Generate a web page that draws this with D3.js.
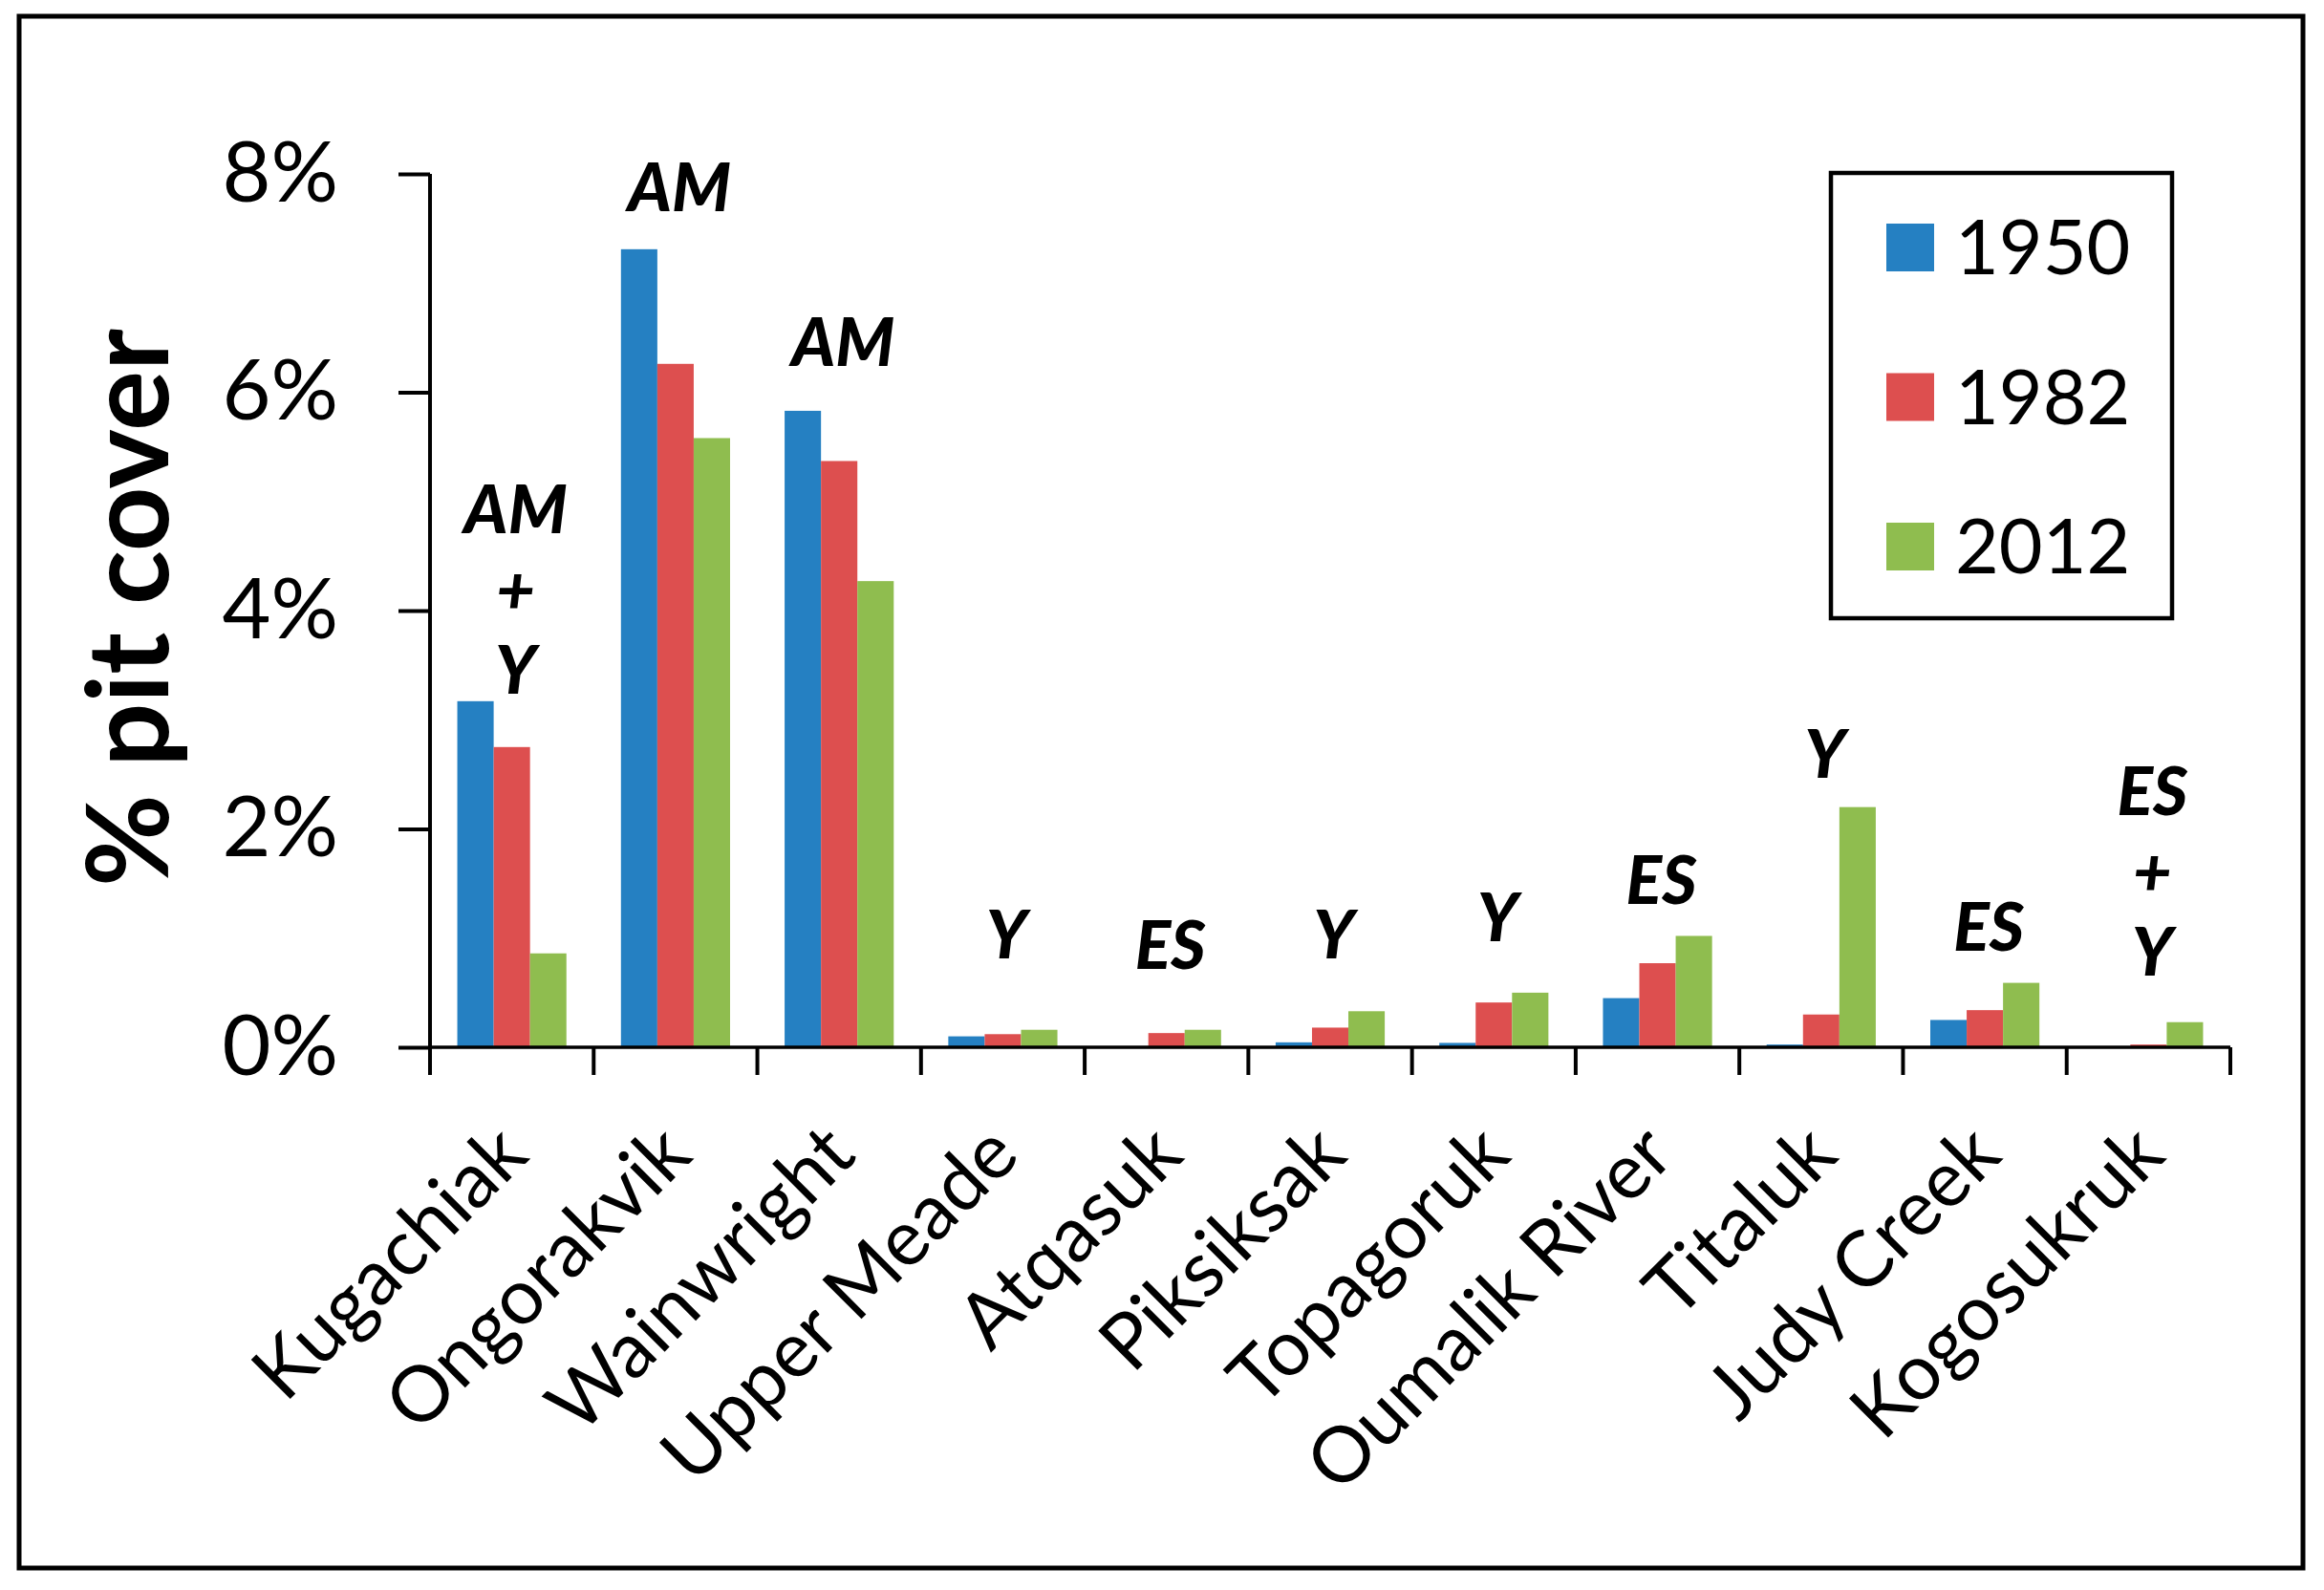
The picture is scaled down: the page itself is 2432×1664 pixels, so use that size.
<!DOCTYPE html>
<html>
<head>
<meta charset="utf-8">
<script src="https://cdn.jsdelivr.net/npm/d3@7"></script>
<style>
  body { margin: 0; background: #fff; }
  text { font-family: Lato, "Open Sans", sans-serif; }
</style>
</head>
<body>
<script>
var w = 2432;
var h = 1664;

var sites = ["Kugachiak", "Ongorakvik", "Wainwright", "Upper Meade", "Atqasuk",
             "Piksiksak", "Topagoruk", "Oumalik River", "Titaluk", "Judy Creek", "Kogosukruk"];
var years = ["1950", "1982", "2012"];
var cover1950 = [3.17, 7.31, 5.83, 0.10, 0, 0.045, 0.04, 0.45, 0.025, 0.25, 0];
var cover1982 = [2.75, 6.26, 5.37, 0.12, 0.13, 0.18, 0.41, 0.77, 0.30, 0.34, 0.025];
var cover2012 = [0.86, 5.58, 4.27, 0.16, 0.16, 0.33, 0.50, 1.02, 2.20, 0.59, 0.23];
var yTicks = [0, 2, 4, 6, 8];
var yTickLabels = ["0%", "2%", "4%", "6%", "8%"];

// group annotations (lines) and the level (in % units) of their last line's baseline
var notes = [["AM", "+", "Y"], ["AM"], ["AM"], ["Y"], ["ES"], ["Y"], ["Y"], ["ES"], ["Y"], ["ES"], ["ES", "+", "Y"]];
var noteLevels = [3.24, 7.66, 6.24, 0.81, 0.72, 0.81, 0.97, 1.31, 2.47, 0.88, 0.66];

var colors = ["#2580c2", "#dd4f4f", "#8fbd4f"];
var seriesValues = [cover1950, cover1982, cover2012];

var svg = d3.select("body")
            .append("svg")
            .attr("width", w)
            .attr("height", h);

svg.append("rect")
   .attr("width", w).attr("height", h)
   .attr("fill", "white");

// outer frame
svg.append("rect")
   .attr("x", 20).attr("y", 17)
   .attr("width", 2390).attr("height", 1624)
   .attr("fill", "none")
   .attr("stroke", "black")
   .attr("stroke-width", 5);

var x = d3.scaleBand().domain(sites).range([450, 2334]).padding(0);
var bw = x.bandwidth();
var xs = d3.scaleBand().domain(years).range([bw / 6, bw * 5 / 6]).padding(0);
var y = d3.scaleLinear().domain([0, 8]).range([1096, 182]);

// bars
years.forEach(function(yr, s) {
  svg.append("g")
     .selectAll("rect")
     .data(seriesValues[s])
     .enter()
     .append("rect")
     .attr("x", function(d, i) { return x(sites[i]) + xs(yr); })
     .attr("y", function(d) { return y(d); })
     .attr("width", xs.bandwidth())
     .attr("height", function(d) { return y(0) - y(d); })
     .attr("fill", colors[s]);
});

// y axis
var yAxis = d3.axisLeft(y)
              .tickValues(yTicks)
              .tickFormat(function(d, i) { return yTickLabels[i]; })
              .tickSize(33)
              .tickPadding(63);
var gy = svg.append("g").attr("transform", "translate(450,0)").call(yAxis);
gy.select(".domain").attr("d", "M0," + y(8) + "V" + y(0)).attr("stroke-width", 4);
gy.selectAll(".tick line").attr("stroke-width", 4);
gy.selectAll(".tick text")
  .attr("font-size", 88)
  .attr("font-family", "Lato, 'Open Sans', sans-serif")
  .attr("fill", "black");

// x axis line and category boundary ticks
svg.append("line")
   .attr("x1", 448).attr("x2", 2334)
   .attr("y1", y(0)).attr("y2", y(0))
   .attr("stroke", "black").attr("stroke-width", 3.5);

var bounds = sites.map(function(s) { return x(s); }).concat([x(sites[sites.length - 1]) + bw]);
svg.append("g")
   .selectAll("line")
   .data(bounds)
   .enter()
   .append("line")
   .attr("x1", function(d) { return d; })
   .attr("x2", function(d) { return d; })
   .attr("y1", y(0))
   .attr("y2", y(0) + 29)
   .attr("stroke", "black")
   .attr("stroke-width", 4);

// rotated category labels
svg.append("g")
   .selectAll("text")
   .data(sites)
   .enter()
   .append("text")
   .text(function(d) { return d; })
   .attr("transform", function(d) { return "translate(" + (x(d) + bw / 2) + "," + (y(0) + 96) + ") rotate(-45)"; })
   .attr("dy", "0.35em")
   .attr("text-anchor", "end")
   .attr("font-size", 81)
   .attr("fill", "black");

// group annotations
var ng = svg.append("g")
            .selectAll("text")
            .data(notes)
            .enter()
            .append("text")
            .attr("text-anchor", "middle")
            .attr("font-size", 70)
            .attr("font-weight", 900)
            .attr("font-style", "italic")
            .attr("fill", "black");

ng.selectAll("tspan")
  .data(function(d, i) {
    return d.map(function(t, k) { return { t: t, k: k, n: d.length, i: i }; });
  })
  .enter()
  .append("tspan")
  .text(function(d) { return d.t; })
  .attr("x", function(d) { return x(sites[d.i]) + bw / 2 + 4; })
  .attr("y", function(d) { return y(noteLevels[d.i]) - (d.n - 1 - d.k) * 84; });

// y axis title
svg.append("text")
   .text("% pit cover")
   .attr("transform", "translate(176,636) rotate(-90)")
   .attr("text-anchor", "middle")
   .attr("font-size", 118)
   .attr("font-weight", "bold")
   .attr("fill", "black");

// legend
var lg = svg.append("g");
lg.append("rect")
  .attr("x", 1916).attr("y", 181)
  .attr("width", 357).attr("height", 466)
  .attr("fill", "white")
  .attr("stroke", "black")
  .attr("stroke-width", 4.5);

var items = lg.selectAll("g.item")
              .data(years)
              .enter()
              .append("g")
              .attr("class", "item")
              .attr("transform", function(d, i) { return "translate(1974," + (234 + i * 156.5) + ")"; });

items.append("rect")
     .attr("width", 50).attr("height", 50)
     .attr("fill", function(d, i) { return colors[i]; });

items.append("text")
     .text(function(d) { return d; })
     .attr("x", 72)
     .attr("y", 25)
     .attr("dy", "0.36em")
     .attr("font-size", 79)
     .attr("fill", "black");
</script>
</body>
</html>
